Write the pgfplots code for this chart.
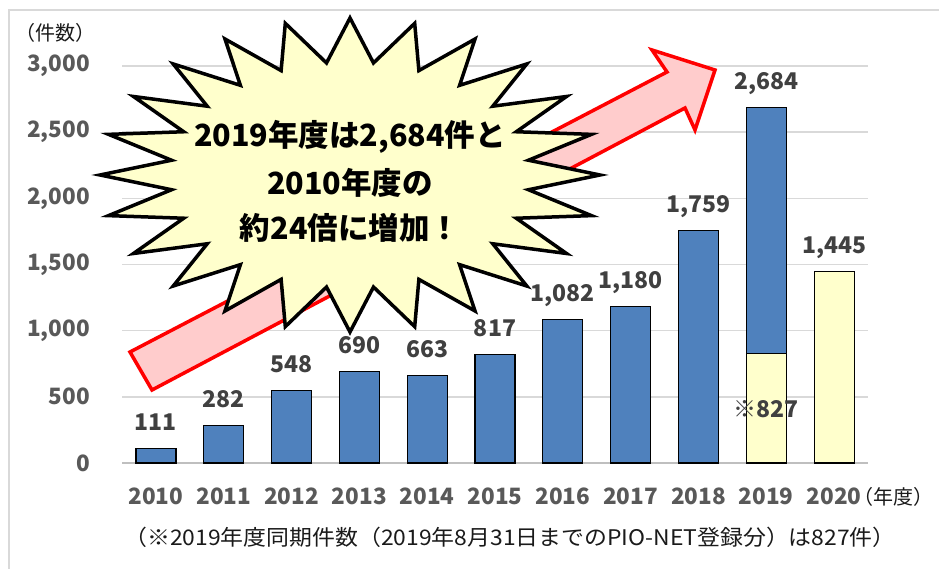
\documentclass[border=0pt]{standalone}
\usepackage{pgfplots}
\pgfplotsset{compat=1.18}
\usepackage{fontspec}
\setmainfont{Noto Sans CJK JP}
\definecolor{barblue}{HTML}{4F81BD}
\definecolor{baryel}{HTML}{FFFFCC}
\definecolor{lblgray}{HTML}{404040}
\definecolor{tickgray}{HTML}{595959}
\definecolor{gridc}{HTML}{D9D9D9}
\definecolor{axisc}{HTML}{BFBFBF}
\definecolor{arrowfill}{HTML}{FFCCCC}
\definecolor{txt}{HTML}{1A1A1A}
\begin{document}
\begin{tikzpicture}[x=1pt,y=1pt]
\useasboundingbox (0,0) rectangle (939,569);
\fill[white] (0,0) rectangle (939,569);
\draw[gridc, line width=1.5pt] (9,0) -- (9,559) -- (939,559);
\begin{axis}[
  at={(122pt,106pt)}, anchor=south west, scale only axis,
  width=746pt, height=397pt,
  xmin=-0.5, xmax=10.5, ymin=0, ymax=3000,
  axis x line*=bottom, axis y line*=left,
  x axis line style={draw=axisc, line width=1.5pt},
  y axis line style={draw=none},
  major tick length=0pt,
  xtick={0,1,2,3,4,5,6,7,8,9,10},
  xticklabels={2010,2011,2012,2013,2014,2015,2016,2017,2018,2019,2020},
  ytick={0,500,1000,1500,2000,2500,3000},
  /pgf/number format/1000 sep={,},
  /pgf/number format/assume math mode=true,
  ymajorgrids, grid style={gridc, line width=1.5pt},
  ticklabel style={font=\fontsize{22.5}{26}\selectfont\bfseries, text=tickgray, inner sep=0pt},
  xticklabel style={anchor=base, yshift=-42pt},
  yticklabel style={anchor=east, xshift=-32pt},
  ybar, bar width=40pt, bar shift=0pt,
  every node near coord/.append style={font=\fontsize{23}{27}\selectfont\bfseries, text=lblgray, inner sep=0pt},
  clip=false,
]
\addplot[fill=barblue, draw=black, line width=1.2pt, nodes near coords,
  every node near coord/.append style={anchor=base, yshift=18pt}]
  coordinates {(0,111)(1,282)(2,548)(3,690)(4,663)(5,817)(6,1082)(7,1180)(8,1759)(9,2684)};
\addplot[fill=baryel, draw=black, line width=1.2pt,
  nodes near coords={※\pgfmathprintnumber{\pgfplotspointmeta}},
  every node near coord/.append style={anchor=center, yshift=-56pt}]
  coordinates {(9,827)};
\addplot[fill=baryel, draw=black, line width=1.2pt, nodes near coords,
  every node near coord/.append style={anchor=base, yshift=18pt}]
  coordinates {(10,1445)};
\end{axis}
\begin{scope}[shift={(0,569)}, yscale=-1]
  \draw[red, line width=3.5pt, fill=arrowfill, line join=miter]
    (130,352) -- (667,72) -- (652,50) -- (715,70) -- (695,130) -- (685,108) -- (152,390) -- cycle;
  \draw[black, line width=3.5pt, fill=baryel, line join=miter]
    (600,175) \foreach \k in {0,...,23} {
      -- ({350+180*cos(15*\k+7.5)},{175-113*sin(15*\k+7.5)})
      -- ({350+250*cos(15*\k+15)},{175-157*sin(15*\k+15)}) } -- cycle;
  \node[anchor=base, inner sep=0pt, font=\fontsize{30.5}{36}\selectfont\bfseries] at (350,147) {2019年度は2,684件と};
  \node[anchor=base, inner sep=0pt, font=\fontsize{30.5}{36}\selectfont\bfseries] at (350,195) {2010年度の};
  \node[anchor=base, inner sep=0pt, font=\fontsize{30.5}{36}\selectfont\bfseries] at (350,240) {約24倍に増加！};
  \node[anchor=base west, inner sep=0pt, text=txt, font=\fontsize{20}{24}\selectfont] at (15,41) {（件数）};
  \node[anchor=base east, inner sep=0pt, text=txt, font=\fontsize{20}{24}\selectfont] at (934,505) {（年度）};
  \node[anchor=base, inner sep=0pt, text=txt, font=\fontsize{21.5}{26}\selectfont] at (510,546) {\scalebox{1.065}[1]{（※2019年度同期件数（2019年8月31日までのPIO-NET登録分）は827件）}};
\end{scope}
\end{tikzpicture}
\end{document}
